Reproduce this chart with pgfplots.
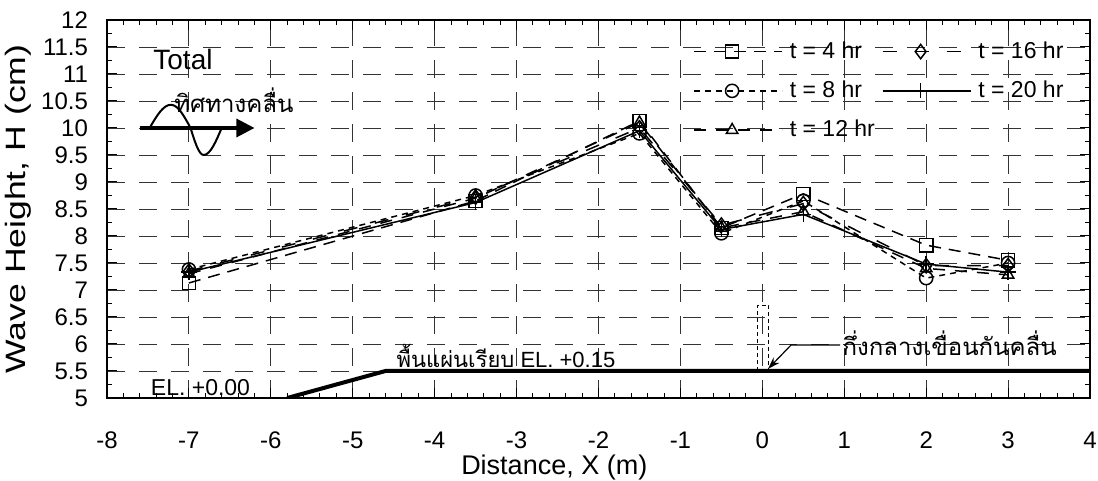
\documentclass[border=0pt]{standalone}
\usepackage{fontspec}
\setmainfont{Liberation Sans}
\newfontfamily\thaifont[Script=Thai]{Loma}
\usepackage{graphicx}
\usepackage{pgfplots}
\pgfplotsset{compat=1.18}
\usetikzlibrary{arrows.meta}

% Wave height along the model, x in m
\pgfplotstableread{
x     t4     t8     t12    t16    t20
-7    7.13   7.38   7.30   7.35   7.33
-3.5  8.65   8.75   8.70   8.72   8.62
-1.5  10.13  9.90   10.10  10.00  9.95
-0.5  8.15   8.05   8.15   8.20   8.12
0.5   8.78   8.65   8.45   8.60   8.40
2     7.83   7.22   7.40   7.45   7.48
3     7.55   7.50   7.28   7.45   7.33
}\waveH

\begin{document}
\begin{tikzpicture}
\begin{axis}[
  name=ax,
  scale only axis,
  width=491.5pt, height=189pt,
  xmin=-8, xmax=4, ymin=5, ymax=12,
  xtick distance=1, ytick distance=0.5,
  minor x tick num=4, minor y tick num=1,
  tick align=inside,
  major tick length=5pt, minor tick length=2.5pt,
  every tick/.style={black, line width=0.5pt},
  axis line style={line width=0.8pt},
  grid=major,
  major grid style={black!80, line width=0.45pt, dash pattern=on 9pt off 7pt},
  font=\fontsize{12}{14}\selectfont,
  /pgf/number format/.cd, fixed, assume math mode=true, /pgfplots/.cd,
  xticklabel style={yshift=-13.5pt},
  yticklabel style={xshift=-6pt},
  xlabel={Distance, X (m)},
  ylabel={\scalebox{1.27}[1]{Wave Height, H (cm)}},
  every axis x label/.style={at={(axis description cs:0.455,-0.185)}, anchor=center, font=\fontsize{13.5}{15}\selectfont},
  every axis y label/.style={at={(axis description cs:-0.09,0.5)}, anchor=center, rotate=90, font=\fontsize{14}{16}\selectfont},
  legend columns=2,
  legend cell align=left,
  legend style={at={(axis description cs:0.590,0.962)}, anchor=north west,
    draw=none, fill=none, font=\fontsize{11.5}{13}\selectfont,
    column sep=2pt, row sep=6.8pt,
    nodes={inner sep=1.5pt}},
  legend image code/.code={%
    \draw[mark repeat=2,mark phase=2,#1] plot coordinates {(0pt,0pt) (19pt,0pt) (38pt,0pt)};
    \path (0pt,0pt) -- (44pt,0pt);},
  every axis plot/.append style={line width=0.75pt, mark size=3.3pt, mark options={solid, fill=white}},
]
\addplot[black, dash pattern=on 6pt off 4pt, mark=square] table[x=x, y=t4] {\waveH};
\addlegendentry{t = 4 hr}
\addplot[black, dash pattern=on 7pt off 9pt, mark=diamond, mark size=3.6pt] table[x=x, y=t16] {\waveH};
\addlegendentry{t = 16 hr}
\addplot[black, dash pattern=on 3pt off 2.5pt, mark=o] table[x=x, y=t8] {\waveH};
\addlegendentry{t = 8 hr}
\addplot[black, solid, mark=+, mark size=3.8pt] table[x=x, y=t20] {\waveH};
\addlegendentry{t = 20 hr}
\addplot[black, dash pattern=on 6pt off 5pt, mark=triangle] table[x=x, y=t12] {\waveH};
\addlegendentry{t = 12 hr}

% sea floor profile
\addplot[black, line width=2pt, no marks, forget plot] coordinates {(-5.8,5) (-4.6,5.5) (4,5.5)};

% breakwater centre (dashed outline)
\draw[black, line width=0.5pt, dash pattern=on 2pt off 1.5pt] (axis cs:-0.06,5.5) rectangle (axis cs:0.08,6.72);

\node[anchor=west, font=\fontsize{14}{16}\selectfont] at (axis cs:-7.52,11.27) {Total};

% wave direction icon
\draw[black, line width=1.6pt, -{Triangle[length=9pt,width=9pt]}] (axis cs:-7.6,10) -- (axis cs:-6.2,10);
\draw[black, line width=1pt] (axis cs:-7.48,10) sin (axis cs:-7.22,10.43) cos (axis cs:-6.98,10) sin (axis cs:-6.82,9.5) cos (axis cs:-6.6,10);
\node[font=\thaifont\fontsize{12}{14}\selectfont] at (axis cs:-6.45,10.52) {ทิศทางคลื่น};

\node[anchor=west, font=\fontsize{11.5}{13}\selectfont] at (axis cs:-7.55,5.19) {EL. +0.00};
\node[anchor=base west, font=\fontsize{11}{13}\selectfont, inner sep=0pt] at (axis cs:-4.47,5.57) {{\thaifont พื้นแผ่นเรียบ} EL. +0.15};

\draw[black, line width=0.6pt, -{Stealth[length=6pt,width=4pt]}] (axis cs:0.95,5.98) -- (axis cs:0.35,5.98) -- (axis cs:0.07,5.54);
\node[anchor=west, inner sep=1pt, font=\thaifont\fontsize{12}{14}\selectfont] at (axis cs:0.95,6.01) {กึ่งกลางเขื่อนกันคลื่น};
\end{axis}
\pgfresetboundingbox
\path[use as bounding box] ([xshift=-53.5pt,yshift=-41.5pt]ax.south west) rectangle ([xshift=4pt,yshift=10pt]ax.north east);
\end{tikzpicture}
\end{document}
